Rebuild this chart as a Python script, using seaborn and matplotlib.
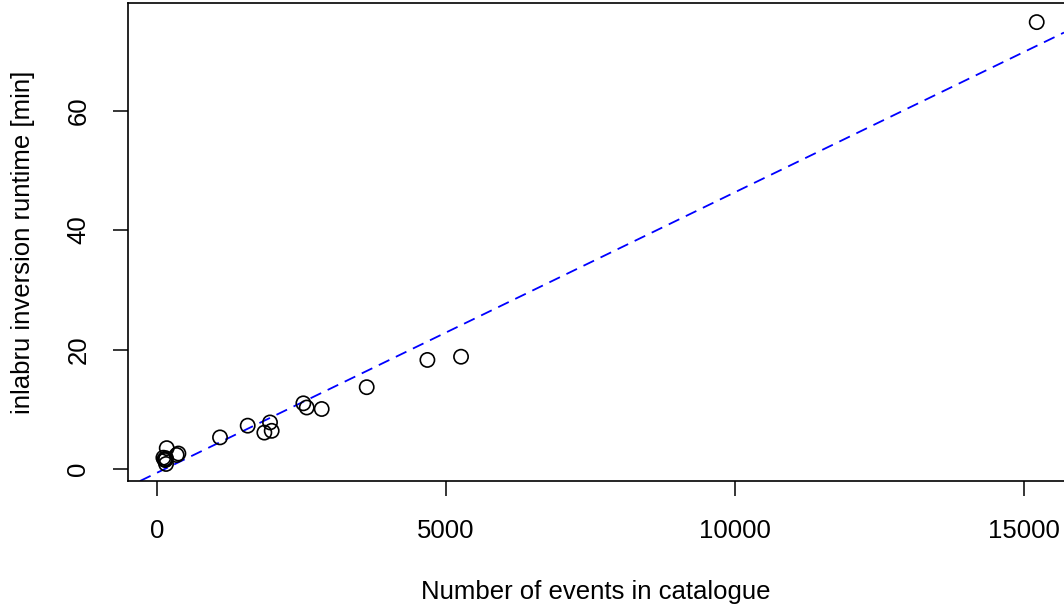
import matplotlib
matplotlib.use("Agg")
import matplotlib.pyplot as plt
import seaborn as sns
import pandas as pd

# Data
n_events = [110, 127, 145, 156, 156, 168, 340, 370, 1090, 1569, 1857, 1955, 1984,
            2532, 2590, 2849, 3628, 4678, 5260, 15220]
runtime_min = [1.9, 1.6, 1.5, 1.8, 0.85, 3.5, 2.35, 2.6, 5.3, 7.26, 6.1, 7.8, 6.4,
               11.0, 10.3, 10.05, 13.7, 18.26, 18.8, 74.8]
fit_intercept = -0.62
fit_slope = 0.004695

x_ticks = [0, 5000, 10000, 15000]
y_ticks = [0, 20, 40, 60]

sns.set_style("white")
plt.rcParams['font.family'] = ['Liberation Sans', 'DejaVu Sans']
plt.rcParams['text.color'] = 'black'
plt.rcParams['axes.labelcolor'] = 'black'
plt.rcParams['xtick.color'] = 'black'
plt.rcParams['ytick.color'] = 'black'

df = pd.DataFrame({"n": n_events, "t": runtime_min})

fig = plt.figure(figsize=(10.64, 6.09), dpi=100)
ax = fig.add_axes([128/1064, (609-481)/609, 936/1064, 478/609])

sns.scatterplot(data=df, x="n", y="t", ax=ax, marker="o", s=105,
                facecolors="none", edgecolor="black", linewidth=1.2, zorder=3)
ax.axline((0, fit_intercept), slope=fit_slope, color="blue", linestyle=(0, (6.5, 4)),
          linewidth=1.3, zorder=2)

ax.set_xlim(-502, 15692)
ax.set_ylim(-2.0, 78.0)
ax.set_xticks(x_ticks)
ax.set_xticklabels([str(v) for v in x_ticks])
ax.set_yticks(y_ticks)
ax.set_yticklabels([str(v) for v in y_ticks], rotation=90, va="center")

for side in ["left", "bottom", "top"]:
    ax.spines[side].set_visible(True)
    ax.spines[side].set_color("black")
    ax.spines[side].set_linewidth(1.2)
ax.spines["right"].set_visible(False)

ax.tick_params(axis="both", which="both", direction="out", length=11, width=1.1,
               color="black", labelcolor="black", labelsize=18.5, pad=16,
               bottom=True, left=True)
ax.set_xlabel("Number of events in catalogue", fontsize=18.5, labelpad=27, color="black")
ax.set_ylabel("inlabru inversion runtime [min]", fontsize=18.5, labelpad=23, color="black")
ax.grid(False)

fig.savefig("out.png", dpi=100)
